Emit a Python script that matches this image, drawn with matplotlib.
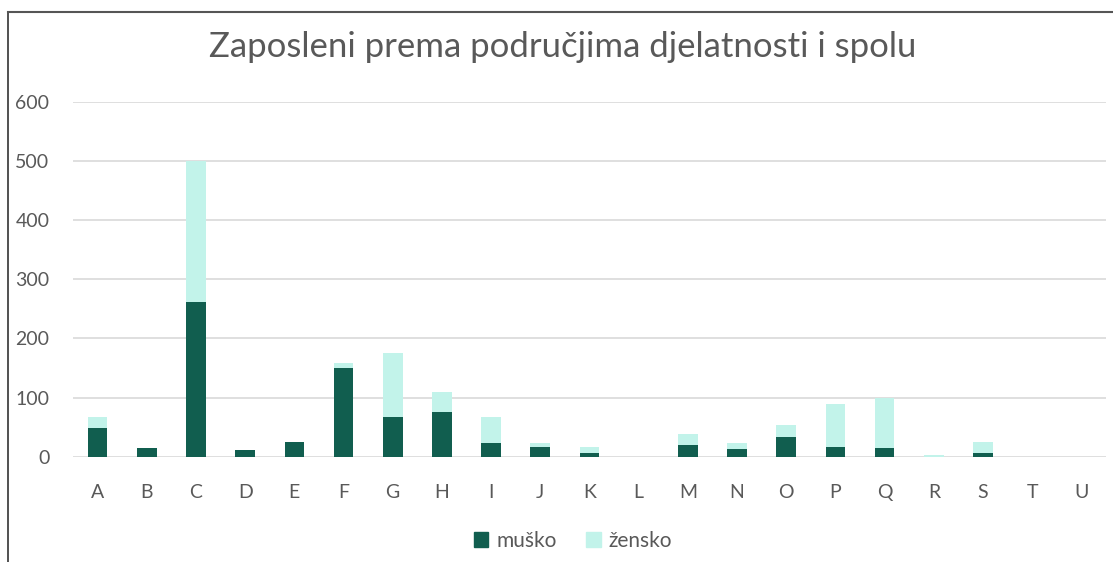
import matplotlib
matplotlib.use("Agg")
import matplotlib.pyplot as plt
import numpy as np
from matplotlib.lines import Line2D

# data
categories = ["A", "B", "C", "D", "E", "F", "G", "H", "I", "J", "K",
              "L", "M", "N", "O", "P", "Q", "R", "S", "T", "U"]
musko = [48, 14, 262, 11, 24, 150, 67, 76, 23, 17, 7,
         0, 19, 13, 34, 17, 15, 0, 6, 0, 0]
zensko = [19, 0, 237, 0, 0, 8, 108, 33, 44, 6, 10,
          0, 20, 11, 20, 72, 84, 3, 19, 0, 0]

dark = "#115e4f"
light = "#c2f3ea"
txt = "#595959"

plt.rcParams['font.family'] = ['Lato', 'DejaVu Sans']

fig = plt.figure(figsize=(11.13, 5.62), dpi=100)
W, H = 1113, 562
# axes placed in pixel coords: x 73..1106, y 101.7..456.7
ax = fig.add_axes([73 / W, 1 - 456.7 / H, (1106 - 73) / W, (456.7 - 101.7) / H])

x = np.arange(len(categories))
ax.bar(x, musko, width=0.4, color=dark, label="muško", zorder=3)
ax.bar(x, zensko, width=0.4, bottom=musko, color=light, label="žensko", zorder=3)

ax.set_xlim(-0.5, len(categories) - 0.5)
ax.set_ylim(0, 600)
ax.set_yticks(range(0, 601, 100))
ax.set_xticks(x)
ax.set_xticklabels(categories)
ax.grid(axis="y", color="#d9d9d9", linewidth=1.2, zorder=0)
for s in ax.spines.values():
    s.set_visible(False)
ax.tick_params(length=0, labelsize=14, colors=txt)
ax.tick_params(axis="y", pad=17)
ax.tick_params(axis="x", pad=20)
for lab in ax.get_yticklabels():
    lab.set_horizontalalignment("right")

fig.text(563 / W, 1 - 47 / H, "Zaposleni prema područjima djelatnosti i spolu",
         ha="center", va="center", fontsize=25, color=txt)

handles = [plt.Rectangle((0, 0), 1, 1, color=dark), plt.Rectangle((0, 0), 1, 1, color=light)]
fig.legend(handles, ["muško", "žensko"], loc="center", bbox_to_anchor=(573 / W, 1 - 541 / H),
           ncol=2, frameon=False, fontsize=15, labelcolor=txt, handlelength=0.7,
           handleheight=0.7, handletextpad=0.4, columnspacing=1.4)

# chart frame (left and top edges visible)
fig.add_artist(Line2D([8 / W, 8 / W], [0, 1 - 12 / H], color="#333333", lw=1.2))
fig.add_artist(Line2D([8 / W, 1], [1 - 12 / H, 1 - 12 / H], color="#555555", lw=1.5))

fig.savefig("out.png", dpi=100)
